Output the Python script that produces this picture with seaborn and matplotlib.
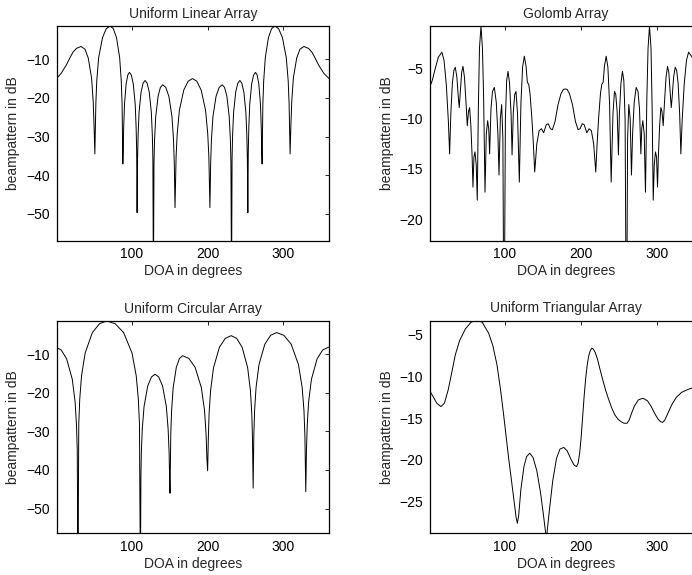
import matplotlib
matplotlib.use("Agg")
import matplotlib.pyplot as plt
import seaborn as sns
import pandas as pd

titles = ["Uniform Linear Array", "Golomb Array", "Uniform Circular Array", "Uniform Triangular Array"]
x_label = "DOA in degrees"
y_label = "beampattern in dB"
x_ticks = [100, 200, 300]

ula_deg = [1, 7, 13.7, 18, 22.4, 27, 33, 38.3, 42.6, 47, 49.1, 50.2, 51.3, 52.6, 53.8, 56.3, 61.4, 66.3, 71.5,
           75.7, 79.85, 84, 86.1, 87.2, 88.2, 88.74, 89.3, 90.4, 92.55, 94.7, 96.9, 99.4, 101.95, 104.5, 105.7,
           106.4, 107, 107.65, 108.3, 109.6, 112.25, 114.9, 117.5, 120.25, 123, 125.75, 127.1, 127.8, 128.5,
           129.27, 130.0, 131.6, 134.65, 137.7, 140.8, 144.85, 148.9, 152.95, 155, 156, 157, 158.4, 159.9,
           162.75, 168.5, 174.25, 180, 185.75, 191.5, 197.25, 200.1, 201.6, 203, 204, 205, 207, 211.1, 215.2,
           219.2, 222.3, 225.4, 228.4, 230, 230.7, 231.5, 232.2, 232.9, 234.25, 237, 239.75, 242.5, 245.1,
           247.75, 250.4, 251.7, 252.35, 253, 253.6, 254.3, 255.5, 258.05, 260.6, 263.1, 265.3, 267.45, 269.6,
           270.7, 271.26, 271.8, 272.8, 273.9, 276, 280.15, 284.3, 288.5, 293.6, 298.6, 303.7, 306.2, 307.4,
           308.7, 309.8, 310.9, 313, 317.4, 321.7, 327, 333, 337.6, 342, 346.3, 353, 360]
ula_db = [-15.0, -13.6, -11.5, -9.8, -8.2, -7.2, -6.7, -7.4, -9.7, -14.9, -20.9, -26.9, -34.5, -21.6, -15.6, -9.6,
          -4.4, -2.1, -1.4, -2.1, -4.4, -9.6, -15.6, -21.6, -37.1, -33.6, -27.6, -21.6, -16.4, -14.1, -13.4,
          -14.1, -16.4, -21.6, -27.6, -33.6, -49.7, -35.7, -29.7, -23.7, -18.5, -16.2, -15.5, -16.2, -18.5,
          -23.7, -29.7, -35.7, -70, -36.8, -30.8, -24.8, -19.6, -17.3, -16.6, -17.3, -19.6, -24.8, -30.8,
          -36.8, -48.4, -35.2, -29.2, -23.2, -18.0, -15.7, -15.0, -15.7, -18.0, -23.2, -29.2, -35.2, -48.4,
          -36.8, -30.8, -24.8, -19.6, -17.3, -16.6, -17.3, -19.6, -24.8, -30.8, -36.8, -70, -35.7, -29.7,
          -23.7, -18.5, -16.2, -15.5, -16.2, -18.5, -23.7, -29.7, -35.7, -49.7, -33.6, -27.6, -21.6, -16.4,
          -14.1, -13.4, -14.1, -16.4, -21.6, -27.6, -33.6, -37.1, -21.6, -15.6, -9.6, -4.4, -2.1, -1.4, -2.1,
          -4.4, -9.6, -15.6, -21.6, -34.5, -26.9, -20.9, -14.9, -9.7, -7.4, -6.7, -7.2, -8.2, -9.8, -11.5,
          -13.6, -15.0]

golomb_deg = [0.0, 4, 8, 12, 16.7, 19.5, 22.5, 25.2, 26.9, 28.5, 30.5, 32.5, 34.4, 36.5, 38.3, 39.6, 41, 42.8,
              44.5, 46.5, 48.6, 50.2, 51.8, 53.3, 55, 56.7, 57.7, 59, 60.4, 62, 63.4, 64.8, 66.3, 68.3, 70.2,
              71.8, 73.6, 75.3, 77.1, 78.5, 79.7, 81.5, 83.5, 85.9, 88.5, 90.6, 92.1, 93.8, 95.6, 97.2, 98.7,
              100.5, 102.2, 104, 106, 108, 109.3, 111, 112.8, 114.5, 116.5, 118.9, 121, 123.2, 125.5, 127.8,
              129.5, 131.3, 133, 135.5, 137.5, 139.2, 142, 145, 148, 151, 154.5, 157, 160, 162.5, 166, 170,
              174, 177, 179.5, 182, 185, 189, 193, 196.5, 199, 202, 204.5, 208, 211, 214, 217, 219.8, 221.5,
              223.5, 226, 227.7, 229.5, 231.2, 233.5, 235.8, 238, 240.1, 242.5, 244.5, 246.2, 248, 249.7, 251,
              253, 255, 256.8, 258.5, 260.3, 261.8, 263.4, 265.2, 266.9, 268.4, 270.5, 273.1, 275.5, 277.5,
              279.3, 280.5, 281.9, 283.7, 285.4, 287.2, 288.8, 290.7, 292.7, 294.2, 295.6, 297, 298.6, 300,
              301.3, 302.3, 304, 305.7, 307.2, 308.8, 310.4, 312.5, 314.5, 316.2, 318, 319.4, 320.7, 322.5,
              324.6, 326.5, 328.5, 330.5, 332.1, 333.8, 336.5, 339.5, 342.3, 347, 351, 355, 359, 360]
golomb_db = [-7.0, -6.2, -5.0, -3.9, -3.4, -4.2, -6.6, -10.2, -13.5, -9.5, -6.5, -5.2, -4.9, -5.9, -7.8, -8.9,
             -7.3, -5.4, -4.8, -5.9, -8.5, -10.7, -9.3, -8.9, -10.8, -14.0, -16.8, -13.8, -13.3, -14.6, -18.1,
             -9.0, -3.0, -0.8, -3.0, -8.0, -17.3, -11.5, -10.2, -11.0, -13.5, -9.0, -7.3, -6.9, -8.4, -11.5,
             -15.6, -10.0, -8.6, -12.0, -35, -10.0, -6.2, -5.3, -6.5, -9.5, -13.6, -9.3, -7.6, -7.3, -9.5,
             -16.3, -8.5, -4.9, -3.8, -4.8, -6.4, -6.6, -7.5, -10.0, -12.6, -15.3, -12.5, -11.2, -11.0, -11.4,
             -10.6, -10.5, -11.0, -11.1, -10.3, -8.6, -7.5, -7.1, -7.05, -7.1, -7.5, -8.6, -10.3, -11.1, -11.0,
             -10.5, -10.6, -11.4, -11.0, -11.2, -12.5, -15.3, -12.6, -10.0, -7.5, -6.6, -6.4, -4.8, -3.8, -4.9,
             -8.5, -16.3, -9.5, -7.3, -7.6, -9.3, -13.6, -9.5, -6.5, -5.3, -6.2, -10.0, -35, -12.0, -8.6,
             -10.0, -15.6, -11.5, -8.4, -6.9, -7.3, -9.0, -13.5, -11.0, -10.2, -11.5, -17.3, -8.0, -3.0, -0.8,
             -3.0, -9.0, -18.1, -14.6, -13.3, -13.8, -16.8, -14.0, -10.8, -8.9, -9.3, -10.7, -8.5, -5.9, -4.8,
             -5.4, -7.3, -8.9, -7.8, -5.9, -4.9, -5.2, -6.5, -9.5, -13.5, -10.2, -6.6, -4.2, -3.4, -3.9, -5.0,
             -6.2, -7.0, -7.2]

uca_deg = [1, 6.9, 14.1, 21.55, 25.3, 27.1, 28.1, 29, 30.1, 31.4, 33.75, 38.5, 48, 57.5, 67, 78.1, 89.2, 100.3,
           105.85, 108.6, 110.1, 111.4, 112, 112.6, 113.8, 116.2, 121.05, 125.9, 130.7, 135.5, 140.55, 145.5,
           147.9, 149.2, 149.8, 150.4, 151, 151.4, 152.5, 154.55, 158.7, 162.85, 167, 175.25, 183.5, 191.75,
           195.9, 197.9, 199, 200, 200.9, 201.9, 203.9, 207.75, 215.5, 223.25, 231, 238.25, 245.5, 252.75,
           256.4, 258.2, 259.1, 260, 260.9, 261.9, 263.85, 267.7, 275.4, 283.1, 290.8, 300.45, 310.1, 319.75,
           324.6, 327, 328.2, 329.4, 330.3, 331.3, 333.1, 336.85, 344.3, 351.75, 359.2, 360]
uca_db = [-8.3, -8.9, -11.2, -16.5, -22.4, -28.4, -34.8, -70, -28.0, -21.6, -15.6, -9.7, -4.4, -2.1, -1.4, -2.1,
          -4.4, -9.7, -15.6, -21.6, -28.0, -70, -41.8, -35.4, -29.4, -23.5, -18.2, -15.9, -15.2, -15.9, -18.2,
          -23.5, -29.4, -35.4, -41.8, -46.0, -37.0, -30.6, -24.6, -18.7, -13.4, -11.1, -10.4, -11.1, -13.4,
          -18.7, -24.6, -30.6, -37.0, -40.2, -31.8, -25.4, -19.4, -13.5, -8.2, -5.9, -5.2, -5.9, -8.2, -13.5,
          -19.4, -25.4, -31.8, -44.7, -31.0, -24.6, -18.6, -12.7, -7.4, -5.1, -4.4, -5.1, -7.4, -12.7, -18.6,
          -24.6, -31.0, -45.6, -34.8, -28.4, -22.4, -16.5, -11.2, -8.9, -8.2, -8.2]

uta_deg = [0, 5, 10, 15.4, 20, 25, 30, 34.4, 40, 47.6, 55, 63, 70, 78.4, 84, 89.4, 94, 98.2, 104.8, 111.5, 114.5,
           116.3, 118, 121, 125, 128.5, 132.6, 137, 142, 147, 151, 154.6, 158, 163, 168, 172.5, 177.5, 182, 187,
           191, 194.3, 196.5, 198.5, 200.5, 202.5, 204.5, 206.5, 208.5, 210.5, 212.5, 214.5, 216.5, 219, 222,
           225, 229, 233, 237, 241, 245, 249, 253, 257, 261, 264, 267, 271, 276, 282, 288, 293, 298, 302, 305,
           308, 311, 315, 320, 326, 333, 340, 346, 352, 360]
uta_db = [-11.6, -12.4, -13.2, -13.6, -13.2, -11.6, -9.4, -7.4, -5.7, -4.3, -3.5, -3.2, -3.5, -4.8, -6.3, -8.6,
          -11.5, -14.6, -19.8, -24.6, -26.8, -27.6, -26.7, -23.5, -20.8, -19.6, -19.2, -19.7, -21.3, -24.0,
          -26.8, -29.5, -26.5, -22.5, -19.8, -18.7, -18.5, -18.9, -19.9, -20.6, -20.8, -20.4, -19.2, -17.3,
          -14.8, -12.3, -10.2, -8.6, -7.5, -6.9, -6.6, -6.7, -7.1, -7.9, -9.0, -10.4, -11.7, -12.8, -13.8,
          -14.6, -15.1, -15.4, -15.6, -15.6, -15.2, -14.4, -13.5, -12.8, -12.6, -12.9, -13.6, -14.5, -15.1,
          -15.4, -15.5, -15.2, -14.4, -13.4, -12.5, -11.9, -11.6, -11.4, -11.3, -11.6]

panels = [
    (ula_deg, ula_db, (-56.9, -1.4), [-50, -40, -30, -20, -10]),
    (golomb_deg, golomb_db, (-22.1, -0.8), [-20, -15, -10, -5]),
    (uca_deg, uca_db, (-56.4, -1.4), [-50, -40, -30, -20, -10]),
    (uta_deg, uta_db, (-28.8, -3.3), [-25, -20, -15, -10, -5]),
]

sns.set_style("white")
plt.rcParams['font.family'] = ['Liberation Sans', 'DejaVu Sans']
plt.rcParams['axes.unicode_minus'] = True

W, H = 692, 575
fig = plt.figure(figsize=(W / 100, H / 100), dpi=100)
fig.patch.set_facecolor("white")

boxes = [(56.7, 26, 329, 240.5), (430, 26, 702, 240.5),
         (56.7, 321, 329, 533.3), (430, 320.7, 702, 533.3)]

for (deg, db, ylim, yt), title, (l, t, r, b) in zip(panels, titles, boxes):
    ax = fig.add_axes([l / W, 1 - b / H, (r - l) / W, (b - t) / H])
    df = pd.DataFrame({"deg": deg, "db": db})
    sns.lineplot(data=df, x="deg", y="db", ax=ax, color="black", linewidth=0.7,
                 estimator=None, sort=False)
    ax.set_xlim(1, 360)
    ax.set_ylim(*ylim)
    ax.set_xticks(x_ticks)
    ax.set_yticks(yt)
    ax.tick_params(direction="in", top=True, right=True, length=3, width=0.6,
                   labelsize=10, pad=5, colors="black")
    for s in ax.spines.values():
        s.set_color("black")
        s.set_linewidth(0.9)
    ax.set_title(title, fontsize=10, pad=6)
    ax.set_xlabel(x_label, fontsize=10, labelpad=2)
    ax.set_ylabel(y_label, fontsize=10, labelpad=4)
    ax.set_facecolor("white")

fig.savefig("out.png", dpi=100)
